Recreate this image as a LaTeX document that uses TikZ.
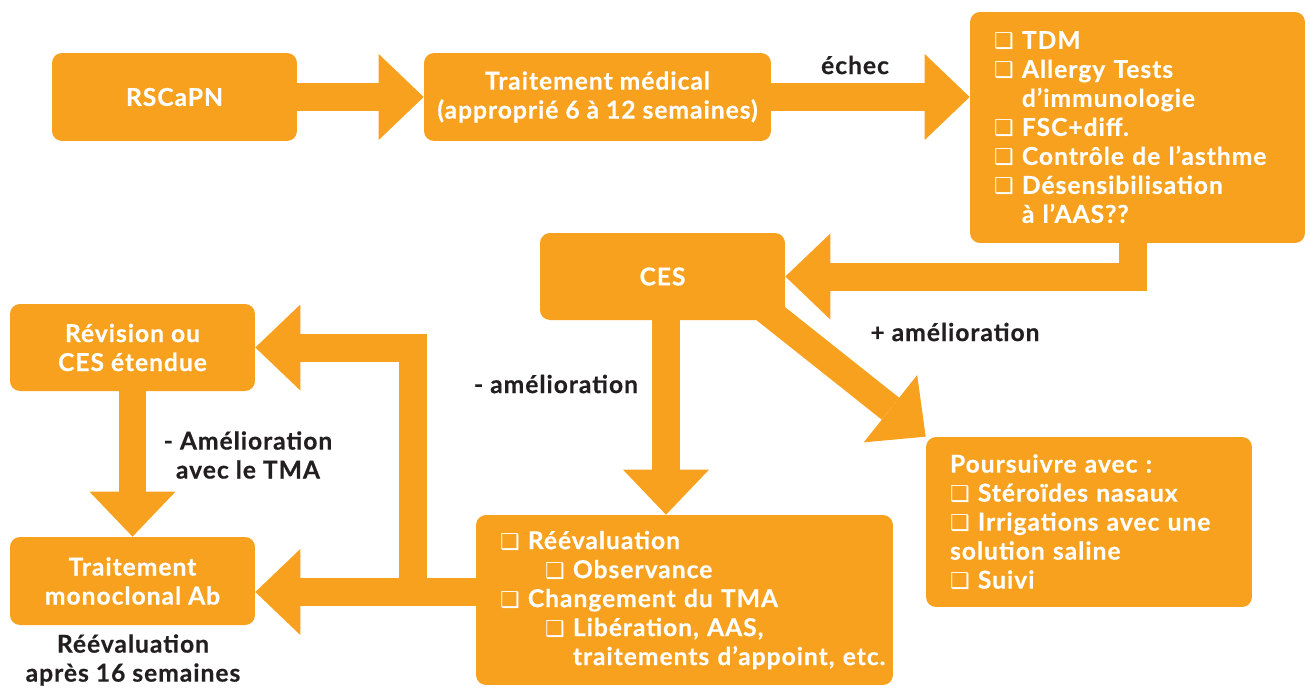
\documentclass[tikz,border=0pt]{standalone}
\usepackage{fontspec}
\setmainfont{Lato}[LetterSpace=4, BoldFeatures={FakeBold=0.5}]
\newfontfamily\symfont{DejaVu Sans}
\usetikzlibrary{arrows.meta}

\definecolor{cesorange}{HTML}{F7A11E}
\definecolor{labelgray}{HTML}{231F20}
\newcommand{\cb}{{\symfont\fontsize{12.5}{16.5}\selectfont ❑}}
\newcommand{\ind}{\phantom{\cb\ }}

\begin{document}
\begin{tikzpicture}[x=0.02cm, y=-0.02cm, font=\bfseries\fontsize{14}{16.5}\selectfont,
  box/.style={fill=cesorange, rounded corners=0.2cm, text=white, align=center, inner sep=0pt},
  listbox/.style={box, align=left, inner xsep=0.48cm},
  lbl/.style={text=labelgray, align=center},
  blockarrow/.style={draw=cesorange, line width=0.56cm, line join=miter,
    -{Triangle[length=0.9cm, width=1.72cm, line width=0pt]}}]
\useasboundingbox (0,0) rectangle (1310,687);
\node[box, minimum width=4.9cm, minimum height=1.76cm](rscapn) at (174.5,97){RSCaPN};
\node[box, minimum width=6.94cm, minimum height=1.76cm](tmed) at (597.5,97){Traitement médical\\(approprié 6 à 12 semaines)};
\node[listbox, minimum height=4.62cm, text width=5.74cm](tdm) at (1137.5,127.5){\cb\ TDM\\
  \cb\ Allergy Tests\\
  \ind d’immunologie\\
  \cb\ FSC+diff.\\
  \cb\ Contrôle de l’asthme\\
  \cb\ Désensibilisation\\
  \ind à l’AAS??};
\node[box, minimum width=4.9cm, minimum height=1.74cm](ces) at (662.5,276.5){CES};
\node[box, minimum width=4.9cm, minimum height=1.74cm](rev) at (132.5,347.5){Révision ou\\CES étendue};
\node[box, minimum width=4.9cm, minimum height=1.76cm](mono) at (132.5,581){Traitement\\monoclonal Ab};
\node[listbox, minimum height=3.4cm, text width=7.38cm](reev) at (684.5,600){\cb\ Réévaluation\\
  \hspace*{0.9cm}\cb\ Observance\\
  \cb\ Changement du TMA\\
  \hspace*{0.9cm}\cb\ Libération, AAS,\\
  \hspace*{0.9cm}\ind\mbox{traitements d’appoint, etc.}};
\node[listbox, minimum height=3.4cm, text width=5.56cm](pours) at (1089,522){Poursuivre avec :\\
  \cb\ Stéroïdes nasaux\\
  \cb\ Irrigations avec une\\
  solution saline\\
  \cb\ Suivi};
% labels
\node[lbl](echec) at (855,65){échec};
\node[lbl](plus) at (955,332){+ amélioration};
\node[lbl](moins) at (556,384){- amélioration};
\node[lbl](ameltma) at (248,455){- Amélioration\\avec le TMA};
\node[lbl](reevsem) at (133,660){Réévaluation\\après 16 semaines};
% block arrows
\draw[blockarrow] (rscapn) -- (tmed);
\draw[blockarrow] (tmed.east) -- (tmed.east -| tdm.west);
\draw[blockarrow] ([shift={(-5,0)}]tdm.south) |- (ces.east);
\draw[blockarrow] ([shift={(3.5,0)}]ces.south) -- ([shift={(3.5,0)}]ces.south |- reev.north);
\draw[blockarrow] ([shift={(-25,-15)}]ces.south east) -- (pours.north west);
\coordinate (split) at (413,592);
\draw[blockarrow] (reev.west |- split) -- (mono.east |- split);
\draw[blockarrow] (split) |- (rev.east);
\draw[blockarrow] (rev) -- (mono);
\end{tikzpicture}
\end{document}
